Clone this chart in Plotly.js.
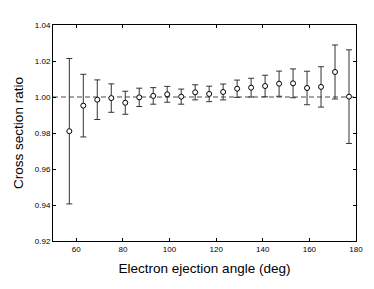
<!DOCTYPE html>
<html>
<head>
<meta charset="utf-8">
<script src="https://cdn.plot.ly/plotly-3.0.1.min.js"></script>
<style>
  html, body { margin: 0; padding: 0; background: #fff; }
  #plot { width: 374px; height: 289px; }
</style>
</head>
<body>
<div id="plot"></div>
<script>
// ejection angle (deg)
var angles = [57, 63, 69, 75, 81, 87, 93, 99, 105, 111, 117, 123, 129, 135, 141, 147, 153, 159, 165, 171, 177];
// cross section ratio
var ratios = [0.981, 0.9952, 0.9985, 0.9994, 0.9968, 0.9998, 1.0006, 1.0015, 1.0002, 1.0026, 1.0017,
              1.0028, 1.0046, 1.0052, 1.0061, 1.0074, 1.0076, 1.005, 1.0056, 1.0139, 1.0002];
// error bars (+/-)
var errors = [0.0404, 0.0174, 0.011, 0.0079, 0.0064, 0.0051, 0.0046, 0.0044, 0.0042, 0.0042, 0.0043,
              0.0044, 0.0048, 0.0052, 0.006, 0.007, 0.008, 0.0093, 0.0112, 0.015, 0.026];

var axis_color = "#000000";

var trace = {
  x: angles,
  y: ratios,
  mode: 'markers',
  type: 'scatter',
  marker: {
    size: 5,
    color: '#ffffff',
    line: { color: '#000000', width: 1 }
  },
  error_y: {
    type: 'data',
    array: errors,
    visible: true,
    color: '#333333',
    thickness: 1,
    width: 3
  },
  showlegend: false
};

var layout = {
  width: 374,
  height: 289,
  margin: { l: 53, r: 18, t: 25, b: 48 },
  plot_bgcolor: '#ffffff',
  paper_bgcolor: '#ffffff',
  font: { family: 'Liberation Sans, Arial, sans-serif', size: 8, color: axis_color },
  xaxis: {
    range: [50, 180],
    tickvals: [60, 80, 100, 120, 140, 160, 180],
    ticks: 'inside',
    ticklen: 3,
    tickcolor: '#000',
    showline: true,
    linecolor: '#000',
    linewidth: 1,
    mirror: 'ticks',
    showgrid: false,
    zeroline: false,
    title: { text: 'Electron ejection angle (deg)', font: { size: 13.5 }, standoff: 10 }
  },
  yaxis: {
    range: [0.92, 1.04],
    tickvals: [0.92, 0.94, 0.96, 0.98, 1.00, 1.02, 1.04],
    tickformat: '.2f',
    ticks: 'inside',
    ticklen: 3,
    tickcolor: '#000',
    showline: true,
    linecolor: '#000',
    linewidth: 1,
    mirror: 'ticks',
    showgrid: false,
    zeroline: false,
    title: { text: 'Cross section ratio', font: { size: 13.5 }, standoff: 8 }
  },
  shapes: [{
    type: 'line',
    xref: 'paper', yref: 'y',
    x0: 0, x1: 1, y0: 1.0, y1: 1.0,
    layer: 'below',
    line: { color: '#888888', width: 1.5, dash: '5px,3px' }
  }]
};

Plotly.newPlot('plot', [trace], layout, { staticPlot: true, displayModeBar: false });
</script>
</body>
</html>
